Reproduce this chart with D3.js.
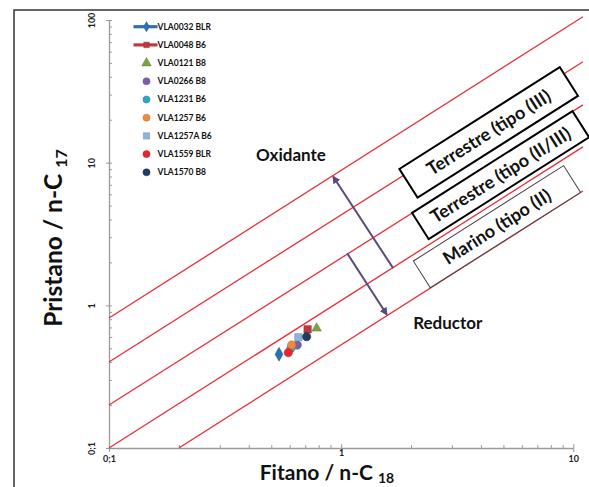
<!DOCTYPE html>
<html><head><meta charset="utf-8">
<script src="https://cdn.jsdelivr.net/npm/d3@7"></script>
<style>body{margin:0;background:#fff}svg{display:block}text{font-family:Lato,"Open Sans",sans-serif;font-weight:bold}</style>
</head><body>
<svg id="c" width="589" height="487"></svg>
<script>
// ---- data ----
const samples = ["VLA0032 BLR","VLA0048 B6","VLA0121 B8","VLA0266 B8","VLA1231 B6","VLA1257 B6","VLA1257A B6","VLA1559 BLR","VLA1570 B8"];
const phytaneRatio = [0.540,0.717,0.784,0.647,0.608,0.612,0.654,0.592,0.710];
const pristaneRatio = [0.454,0.679,0.690,0.527,0.500,0.527,0.597,0.466,0.603];
const markerShape = ["diamond","square","triangle","circle","circle","circle","square","circle","circle"];
const markerColor = ["#2e6fb3","#c0383c","#7ba345","#7a5ea8","#2ba6c0","#ee8a3a","#8fb4dc","#e8252e","#1f3d63"];
const legendHasLine = [true,true,false,false,false,false,false,false,false];
const xTickLabels = {0.1:"0;1",1:"1",10:"10"};
const yTickLabels = {0.1:"0;1",1:"1",10:"10",100:"100"};
// boundary lines (start x, start y, end x, end y)
const lineX0 = [0.1,0.1,0.1,0.1,0.2];
const lineY0 = [0.815,0.401,0.2,0.1,0.1];
const lineX1 = [11,11,11,11,11];
const lineY1 = [105.5,51,25.4,12.9,6.33];
// arrows (tail -> head)
const arrowX0 = [1.676,1.062], arrowY0 = [1.818,2.315];
const arrowX1 = [0.925,1.57], arrowY1 = [7.97,0.865];
// region boxes
const boxLabels = ["Terrestre (tipo (III)","Terrestre (tipo (II/III)","Marino  (tipo (II)"];
const boxX = [4.32,4.86,4.69], boxY = [16.3,8.19,3.56];
const boxW = [190,190,178], boxH = [34,31,31.6], boxStroke=[2,2,1];
const noteLabels = ["Oxidante","Reductor"];
const noteX = [0.608,2.88], noteY = [11.3,0.752];

// ---- scales ----
const svg = d3.select("#c");
const x = d3.scaleLog().domain([0.1,10]).range([109,573.3]);
const y = d3.scaleLog().domain([0.1,100]).range([448,20]);

// frame
svg.append("path").attr("d","M14,487 L14,10 L589,10").attr("fill","none").attr("stroke","#333").attr("stroke-width",1.5);

// axes
const xTicks = [];
for (let d=0.1; d<10; d*=10) for (let k=1;k<=9;k++) xTicks.push(+(d*k).toPrecision(3));
xTicks.push(10);
const yTicks = [];
for (let d=0.1; d<100; d*=10) for (let k=1;k<=9;k++) yTicks.push(+(d*k).toPrecision(3));
yTicks.push(100);
const isMajor = v => Math.abs(Math.log10(v) - Math.round(Math.log10(v))) < 1e-6;

const gx = svg.append("g").attr("transform","translate(0,448)")
  .call(d3.axisBottom(x).tickValues(xTicks).tickSizeInner(-3).tickSizeOuter(0).tickFormat(v => xTickLabels[v]||""));
gx.select(".domain").attr("stroke","#9a9a9a").attr("stroke-width",1.3);
gx.selectAll(".tick line").attr("stroke","#9a9a9a").attr("y1",d=>isMajor(d)?4:0).attr("y2",d=>isMajor(d)?-4:-3);
gx.selectAll(".tick text").attr("y",d=>d===1?2:8).attr("font-size",9).attr("font-family","Lato").attr("font-weight","bold").attr("fill","#222");

const gy = svg.append("g").attr("transform","translate(109,0)")
  .call(d3.axisLeft(y).tickValues(yTicks).tickSizeInner(-3).tickSizeOuter(0).tickFormat(v => yTickLabels[v]||""));
gy.select(".domain").attr("stroke","#9a9a9a").attr("stroke-width",1.3);
gy.selectAll(".tick line").attr("stroke","#9a9a9a").attr("x1",d=>isMajor(d)?-3:0).attr("x2",3);
gy.selectAll(".tick text").attr("x",0).attr("dy",0).attr("text-anchor","middle")
  .attr("transform","translate(-14,0) rotate(-90)").attr("font-size",9).attr("font-family","Lato").attr("font-weight","bold").attr("fill","#222");

// red boundary lines
svg.append("g").selectAll("line").data(lineX0).join("line")
  .attr("x1",(d,i)=>x(lineX0[i])).attr("y1",(d,i)=>y(lineY0[i]))
  .attr("x2",(d,i)=>x(lineX1[i])).attr("y2",(d,i)=>y(lineY1[i]))
  .attr("stroke","#ee2b36").attr("stroke-width",1.3);

// arrows
svg.append("defs").append("marker").attr("id","ah").attr("viewBox","0 0 10 10").attr("refX",8).attr("refY",5)
  .attr("markerWidth",4).attr("markerHeight",4).attr("orient","auto")
  .append("path").attr("d","M0,0 L10,5 L0,10 z").attr("fill","#5a4a7a");
svg.append("g").selectAll("line").data(arrowX0).join("line")
  .attr("x1",(d,i)=>x(arrowX0[i])).attr("y1",(d,i)=>y(arrowY0[i]))
  .attr("x2",(d,i)=>x(arrowX1[i])).attr("y2",(d,i)=>y(arrowY1[i]))
  .attr("stroke","#5a4a7a").attr("stroke-width",2).attr("marker-end","url(#ah)");

// notes
svg.append("g").selectAll("text").data(noteLabels).join("text")
  .attr("x",(d,i)=>x(noteX[i])).attr("y",(d,i)=>y(noteY[i])).attr("dy","0.35em")
  .attr("text-anchor","middle").attr("font-size",17).attr("fill","#111").text(d=>d);

// boxes
const ang = -Math.atan((y(1)-y(10))/(x(10)-x(1)) * 1.033) * 180/Math.PI;
const bg = svg.append("g").selectAll("g").data(boxLabels).join("g")
  .attr("transform",(d,i)=>`translate(${x(boxX[i])},${y(boxY[i])}) rotate(${ang})`);
bg.append("rect").attr("x",(d,i)=>-boxW[i]/2).attr("y",(d,i)=>-boxH[i]/2)
  .attr("width",(d,i)=>boxW[i]).attr("height",(d,i)=>boxH[i])
  .attr("fill","#fff").attr("stroke",(d,i)=>i==2?"#444":"#000").attr("stroke-width",(d,i)=>boxStroke[i]);
bg.append("text").attr("text-anchor","middle").attr("dy","0.35em").attr("font-size",18).attr("fill","#111").text(d=>d);

// symbols
function sym(sel, shape, color, size){
  const t = {diamond:d3.symbolDiamond,square:d3.symbolSquare,triangle:d3.symbolTriangle,circle:d3.symbolCircle}[shape];
  sel.append("path").attr("d",d3.symbol().type(t).size(size)).attr("fill",color)
    .attr("stroke",d3.color(color).darker(0.6)).attr("stroke-width",0.5);
}
// points
const pg = svg.append("g");
samples.forEach((s,i)=>{
  const g = pg.append("g").attr("transform",`translate(${x(phytaneRatio[i])},${y(pristaneRatio[i])})`);
  sym(g, markerShape[i], markerColor[i], markerShape[i]==="triangle"?40:55);
});

// legend
const lg = svg.append("g");
samples.forEach((s,i)=>{
  const yy = 26.7 + i*18.2;
  const g = lg.append("g").attr("transform",`translate(146.5,${yy})`);
  if (legendHasLine[i]) g.append("line").attr("x1",-13).attr("x2",11).attr("stroke",markerColor[i]).attr("stroke-width",3.2);
  sym(g, markerShape[i], markerColor[i], legendHasLine[i]?30:40);
  lg.append("text").attr("x",157.5).attr("y",yy).attr("dy","0.35em").attr("font-size",8.5).attr("fill","#111").text(s);
});

// axis titles
const xt = svg.append("text").attr("x",327).attr("y",480).attr("text-anchor","middle").attr("font-size",21).attr("fill","#111");
xt.append("tspan").text("Fitano / n-C ");
xt.append("tspan").attr("font-size",14).attr("dy",2.5).text("18");
const yt = svg.append("text").attr("transform","translate(62,238) rotate(-90)").attr("text-anchor","middle").attr("font-size",24.5).attr("fill","#111");
yt.append("tspan").text("Pristano / n-C ");
yt.append("tspan").attr("font-size",16).attr("dy",5).text("17");
</script>
</body></html>
